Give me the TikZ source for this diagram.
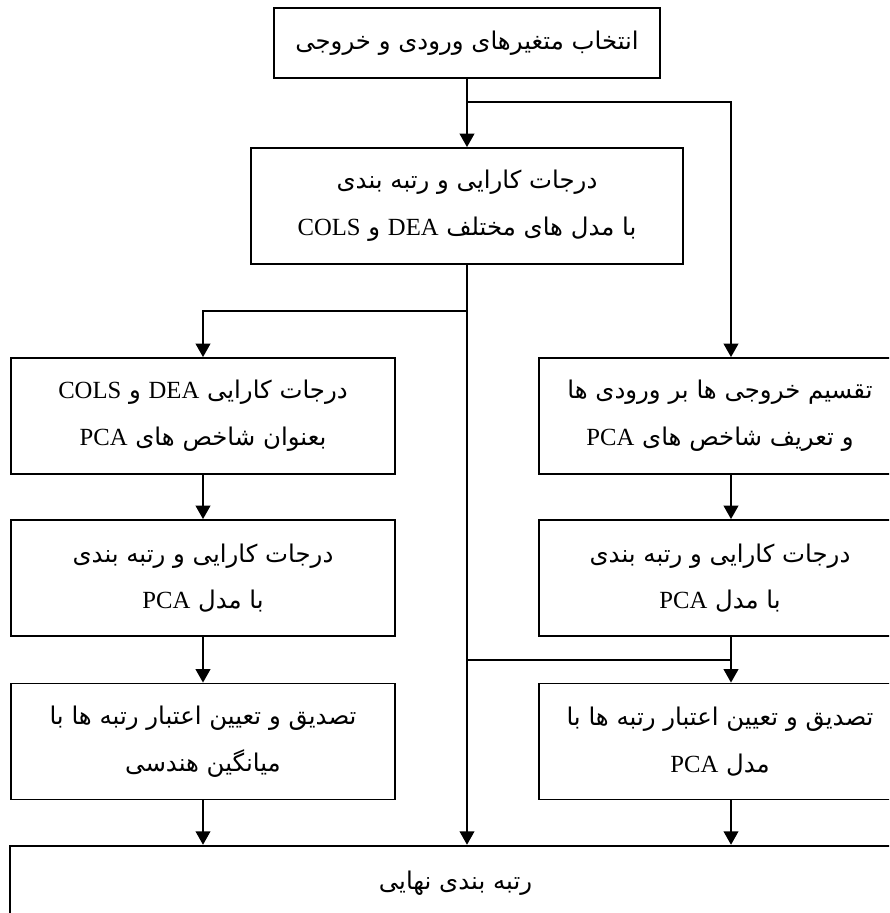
\documentclass[tikz,border=0pt]{standalone}
\usepackage{fontspec}
\usetikzlibrary{arrows.meta}
\TeXXeTstate=1
\newfontfamily\fafont[Script=Arabic]{DejaVu Sans}
\newfontfamily\latf{Liberation Serif}
\newcommand{\latw}[1]{{\latf\fontsize{18.5}{35}\selectfont\beginL #1\endL}}
\newcommand{\rl}[1]{\beginR #1\endR}
\tikzset{
  box/.style={draw, line width=1.4pt, inner sep=0pt, align=center,
    font=\fafont\fontsize{18.3}{35}\selectfont},
  conn/.style={line width=1.1pt},
  arr/.style={conn, -{Triangle[width=11pt,length=10pt]}}
}
\begin{document}
\begin{tikzpicture}[x=0.75pt,y=-0.75pt]
\clip (0,0) rectangle (889,913);
\fill[white] (0,0) rectangle (889,913);
% boxes
\node[box, minimum width=289.5pt, minimum height=52.5pt] (top) at (467,43)
  {\rl{انتخاب متغیرهای ورودی و خروجی}};
\node[box, minimum width=324pt, minimum height=87pt] (b2) at (467,206)
  {\rl{درجات کارایی و رتبه بندی}\\ \rl{با مدل های مختلف \latw{DEA} و \latw{COLS}}};
\node[box, minimum width=288pt, minimum height=87pt] (L1) at (203,416)
  {\rl{درجات کارایی \latw{DEA} و \latw{COLS}}\\ \rl{بعنوان شاخص های \latw{PCA}}};
\node[box, minimum width=288pt, minimum height=87pt] (L2) at (203,578)
  {\rl{درجات کارایی و رتبه بندی}\\ \rl{با مدل \latw{PCA}}};
\node[box, minimum width=288pt, minimum height=87pt] (L3) at (203,741.5)
  {\rl{تصدیق و تعیین اعتبار رتبه ها با}\\ \rl{میانگین هندسی}};
\node[box, minimum width=271.5pt, minimum height=87pt] (R1) at (720,416)
  {\rl{تقسیم خروجی ها بر ورودی ها}\\ \rl{و تعریف شاخص های \latw{PCA}}};
\node[box, minimum width=271.5pt, minimum height=87pt] (R2) at (720,578)
  {\rl{درجات کارایی و رتبه بندی}\\ \rl{با مدل \latw{PCA}}};
\node[box, minimum width=271.5pt, minimum height=87pt] (R3) at (720,741.5)
  {\rl{تصدیق و تعیین اعتبار رتبه ها با}\\ \rl{مدل \latw{PCA}}};
\node[box, minimum width=668.25pt, minimum height=56pt] (bot) at (455.5,883)
  {\rl{رتبه بندی نهایی}};
% helper coordinates
\coordinate (rx) at (731,0);
\coordinate (j1) at (467,102);
\coordinate (j2) at (467,311);
\coordinate (j3) at (467,660);
\coordinate (j4) at (731,660);
% connectors
\draw[arr] (top) -- (b2);
\draw[arr] (j1) -| (rx |- R1.north);
\draw[arr] (b2.south) -- (b2.south |- bot.north);
\draw[arr] (j2) -| (L1.north);
\draw[arr] (L1) -- (L2);
\draw[arr] (L2) -- (L3);
\draw[arr] (L3.south) -- (L3.south |- bot.north);
\draw[arr] (rx |- R1.south) -- (rx |- R2.north);
\draw[arr] (rx |- R2.south) -- (rx |- R3.north);
\draw[conn] (j3) -- (j4);
\draw[arr] (rx |- R3.south) -- (rx |- bot.north);
\end{tikzpicture}
\end{document}
